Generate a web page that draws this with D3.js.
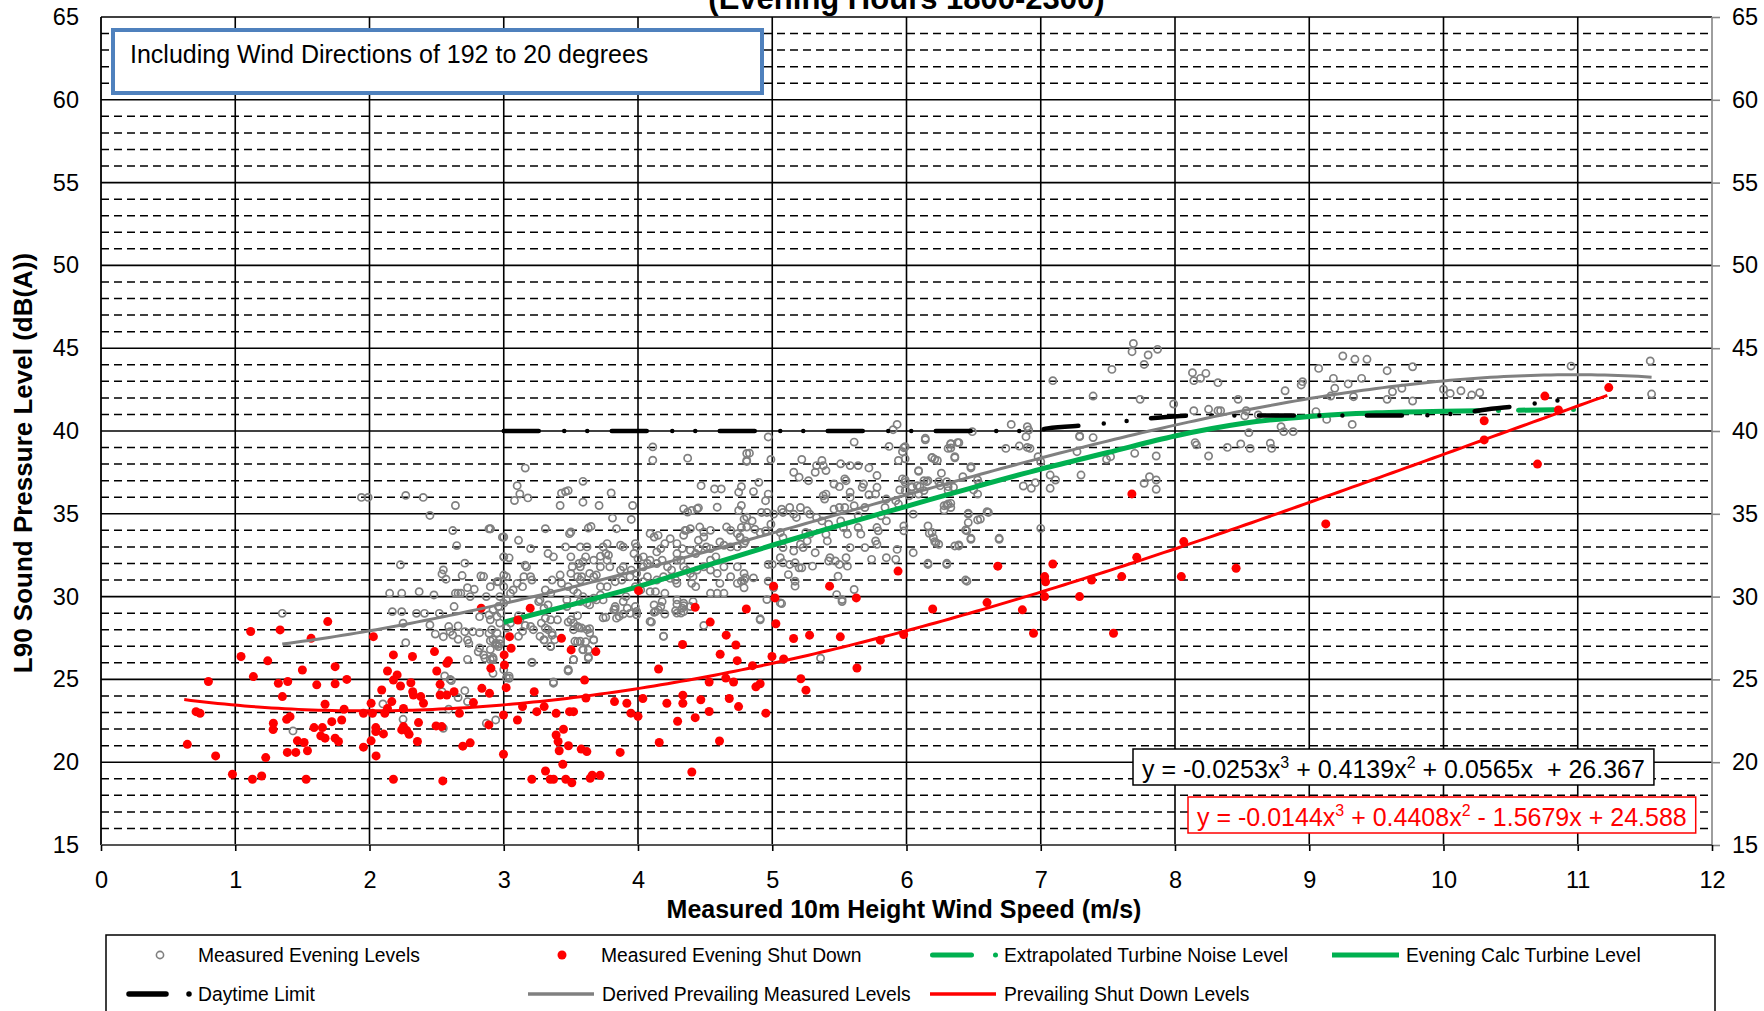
<!DOCTYPE html>
<html>
<head>
<meta charset="utf-8">
<script src="https://cdn.jsdelivr.net/npm/d3@7"></script>
<style>
  html, body { margin: 0; padding: 0; background: #fff; overflow: hidden; }
  svg { display: block; font-family: "Liberation Sans", Arial, sans-serif; }
</style>
</head>
<body>
<svg id="chart" width="1764" height="1011"></svg>
<script>
// ---------- axis ticks ----------
const xTickValues = [0, 1, 2, 3, 4, 5, 6, 7, 8, 9, 10, 11, 12];
const yTickValues = [15, 20, 25, 30, 35, 40, 45, 50, 55, 60, 65];

// ---------- series: measured evening levels (wind speed m/s, dB(A)) ----------
const eveningLevels = [
[1.94,35.99],[1.99,35.99],[2.27,36.11],[2.40,35.99],[2.64,35.5],[2.45,34.9],[2.62,33.99],[2.89,34.09],[2.90,34.09],[2.65,33.08],[2.99,33.59],[2.23,31.92],[2.55,31.61],[2.54,31.37],[2.57,31.05],[2.71,32.02],[2.69,31.27],[2.83,31.25],[2.85,31.21],[3.0,32.4],[2.96,30.9],[2.73,30.54],[2.78,30.44],[2.15,30.2],[2.24,30.2],[2.37,30.3],[2.48,30.1],[2.64,30.2],[2.66,30.2],[2.68,30.2],[2.75,30.0],[2.87,30.0],[1.35,28.99],[2.17,29.09],[2.24,29.09],[2.35,28.99],[2.41,28.99],[2.52,28.99],[2.63,29.4],[2.45,28.29],[2.49,27.74],[2.55,27.58],[2.59,28.19],[2.66,28.23],[2.60,27.88],[2.62,27.68],[2.71,27.88],[2.77,27.88],[2.82,27.82],[2.25,28.39],[2.27,27.22],[2.66,27.42],[2.73,27.38],[2.74,27.18],[2.82,28.79],[2.89,28.89],[2.95,28.79],[2.90,27.34],[2.94,27.18],[2.96,26.98],[2.81,26.67],[2.85,26.47],[2.73,26.21],[2.89,27.78],[2.92,26.21],[2.60,25.0],[2.97,30.0],[3.0,29.6],[2.98,29.0],[3.0,30.6],[3.02,31.2],
[1.43,21.89],[2.10,23.52],[2.25,22.59],[2.56,25.21],[2.61,24.93],[2.54,24.26],[2.71,24.32],[2.66,23.9],[2.59,23.2],[2.55,22.05],[2.87,22.35],[2.94,22.55],[3.37,24.77],[3.21,26.01],[3.48,25.51],[2.92,25.37],[3.04,25.07],[2.73,23.66],[2.86,26.28],[2.92,26.32],[2.82,26.9],[2.97,27.15],
[4.11,39.04],[4.11,38.24],[4.37,38.36],[4.81,38.64],[4.81,38.16],[3.16,37.76],[3.10,36.7],[3.12,36.2],[3.18,35.96],[3.08,35.8],[3.59,36.96],[3.43,36.24],[3.46,36.34],[3.48,36.4],[3.59,35.7],[3.42,35.5],[3.71,35.5],[3.80,36.26],[3.96,35.5],[3.95,34.66],[3.81,34.74],[3.65,34.24],[3.63,34.14],[3.84,34.1],[3.31,34.1],[3.49,33.8],[3.50,33.9],[2.90,34.1],[3.0,33.6],[3.11,33.4],[3.20,32.9],[3.0,32.4],[3.04,32.34],[3.46,33.0],[3.57,33.0],[3.62,33.0],[3.33,32.6],[3.37,32.4],[3.50,32.4],[3.61,32.4],[3.59,32.1],[3.72,32.44],[3.76,32.6],[3.78,32.5],[3.87,33.1],[3.89,33.0],[3.98,33.2],[3.99,33.0],[4.09,33.8],[4.12,33.6],[4.15,33.7],[4.34,35.3],[4.37,35.1],[4.40,35.2],[4.44,35.3],[4.45,35.36],[4.47,36.7],[4.57,36.5],[4.62,36.5],[4.59,35.4],[4.75,36.3],[4.77,36.64],[4.75,35.2],[4.77,35.5],[4.81,34.8],[4.81,34.2],[4.36,34.0],[4.39,34.1],[4.46,34.2],[4.49,33.9],[4.54,34.0],[4.66,34.2],[4.69,34.0],[4.74,33.8],[4.76,33.6],[4.20,33.2],[4.24,33.5],[4.29,33.2],[4.33,32.9],[4.39,32.8],[4.43,32.6],[4.45,32.9],[4.51,33.0],[4.54,32.9],[4.61,33.3],[4.64,33.1],[4.69,33.0],[4.74,33.0],[4.79,33.2],[3.97,32.6],[4.0,32.3],[4.04,32.4],[4.09,32.2],[4.14,32.0],[4.18,32.2],[4.22,31.8],[4.25,31.6],[4.32,32.2],[4.34,31.8],[4.36,31.6],[4.39,31.4],[4.41,31.2],[4.44,31.6],[4.49,31.8],[4.54,31.6],[4.59,31.4],[4.64,31.8],[4.69,31.2],[4.61,30.8],[4.74,30.8],[4.79,31.0],[4.40,30.8],[4.43,30.6],[4.54,30.2],[4.59,30.2],[4.64,30.2],[4.09,30.3],[4.13,30.3],[4.20,30.2],[4.18,29.7],[4.29,29.8],[4.34,29.6],[4.12,29.5],[4.17,29.4],[3.92,29.3],[3.98,29.4],[3.99,29.1],[3.99,28.9],[4.13,29.1],[4.15,29.2],[4.09,28.5],[4.19,27.6],[4.34,29.1],[4.29,29.0],[3.84,28.7],[3.86,28.8],[3.74,29.8],[3.72,30.1],[3.67,29.9],[3.83,30.9],[3.88,31.0],[3.94,31.2],[3.77,30.6],[3.72,30.6],[3.64,31.4],[3.67,31.2],[3.69,31.3],[3.57,31.0],[3.58,31.2],[3.55,31.2],[3.50,31.4],[3.51,31.8],[3.42,31.3],[3.43,30.8],[3.36,31.0],[3.31,30.4],[3.35,30.2],[3.27,29.8],[3.26,29.7],[3.20,31.2],[3.21,31.0],[3.15,31.2],[3.14,30.6],[3.10,30.8],[3.07,30.4],[3.05,30.2],[3.02,29.8],[2.96,29.4],[2.92,29.2],[2.95,30.9],[2.90,30.6],[3.17,31.8],[3.16,31.9],[3.0,31.3],[3.48,30.6],[3.52,30.4],[3.55,30.2],[3.59,30.0],[3.47,29.8],[3.47,29.4],[3.33,29.5],[3.30,29.3],[3.57,29.7],[3.62,29.6],[3.64,29.5],[3.69,29.8],[3.40,28.6],[3.35,28.6],[3.31,28.7],[3.28,28.4],[3.31,28.1],[3.33,28.0],[3.36,27.8],[3.27,27.6],[3.30,27.4],[3.22,28.0],[3.20,28.2],[3.12,28.6],[3.14,27.9],[3.11,27.6],[3.05,28.4],[3.02,28.1],[2.97,28.4],[2.95,27.8],[2.92,27.4],[2.90,28.6],[2.91,28.0],[3.50,28.6],[3.52,28.4],[3.55,28.2],[3.58,28.1],[3.62,28.0],[3.64,27.8],[3.67,27.4],[3.57,27.3],[3.53,27.3],[3.59,26.8],[3.63,26.36],[3.52,26.2],[3.35,27.0],[3.38,27.4],[3.48,25.6],[3.21,26.04],[2.90,26.8],[2.90,26.2],[2.92,26.2],[3.04,25.2],[2.95,27.1],[2.97,27.4],[3.83,29.4],[3.82,29.2],[3.89,29.7],[3.91,30.0],[3.98,30.6],[4.02,30.4],[4.04,30.9],[4.07,31.2],[4.14,31.0],[4.19,31.2],[4.24,31.1],[4.28,31.0],[4.29,30.8],[3.99,31.4],[3.95,31.6],[4.04,31.8],[4.07,32.0],[3.89,31.8],[3.87,31.6],[3.79,31.8],[3.77,32.2],[3.72,31.8],[3.67,32.2],[3.56,32.0],[3.57,31.8],[3.74,33.0],[3.77,33.2],[4.29,32.2],[4.29,32.6],[4.35,34.0],[4.34,33.7],[4.74,31.8],[4.79,31.4],[4.54,32.2],[4.58,32.4],[4.45,33.4],[4.49,33.6],[4.14,32.7],[4.17,32.9],[4.41,29.7],[4.39,29.4],[4.33,29.3],[4.32,29.0],
[3.37,24.84],[3.48,25.53],[3.52,26.19],[3.63,26.28],[3.59,26.78],[3.63,26.78],[3.67,27.37],[3.61,27.27],[3.55,27.27],[3.52,28.0],[3.56,28.12],[3.64,28.06],[3.48,28.46],[3.55,28.85],[3.35,26.98],[3.30,27.37],[3.36,27.67],[3.11,28.85],[3.16,28.26],[3.0,25.59],[3.02,25.1],[3.74,28.72],[3.76,28.75],[3.83,29.25],[3.89,28.95],[3.94,28.99],[4.10,28.46],[4.12,29.05],[4.19,27.61],[4.20,28.95],[4.28,29.15],[4.29,29.54],[4.34,29.45],[4.49,28.26],[4.91,28.66],[5.07,29.58],[5.36,26.28],[5.52,29.7],
[4.97,39.64],[4.83,38.66],[4.81,38.22],[4.99,38.28],[5.22,38.28],[5.16,37.51],[5.20,37.21],[5.27,37.0],[5.32,37.51],[5.37,38.22],[5.38,37.91],[5.40,37.61],[5.33,37.91],[5.51,38.02],[5.58,37.91],[5.64,37.91],[5.72,37.77],[5.61,39.33],[5.87,39.07],[5.98,38.99],[5.93,40.4],[5.90,40.08],[5.94,38.22],[5.99,38.32],[6.14,39.47],[6.33,39.23],[6.39,39.29],[6.33,38.97],[6.36,38.38],[6.19,38.38],[6.23,38.22],[6.48,37.77],[6.09,37.57],[6.26,37.45],[5.78,37.31],[5.97,37.11],[5.99,36.9],[6.13,37.0],[6.16,37.0],[6.30,36.94],[4.90,36.9],[4.86,36.34],[4.97,36.19],[4.95,35.79],[5.46,36.8],[5.50,36.64],[5.54,37.11],[5.55,37.0],[5.68,36.8],[5.67,36.6],[5.58,36.3],[5.58,35.99],[5.38,36.09],[5.40,36.19],[5.39,35.89],[5.78,36.6],[5.77,36.19],[5.72,36.15],[5.85,35.89],[5.84,35.38],[5.92,35.79],[5.94,35.59],[5.99,36.4],[6.04,36.6],[6.02,36.09],[6.08,36.7],[6.09,36.19],[6.13,36.4],[6.25,36.7],[6.31,36.4],[6.35,36.6],[6.50,36.44],[6.53,36.19],[6.28,35.49],[6.31,35.59],[6.33,35.38],[6.46,34.98],[6.46,34.47],[6.45,33.97],[6.61,35.08],[6.55,34.68],[6.48,33.46],[6.69,33.46],[6.39,33.06],[6.16,34.27],[6.19,33.87],[6.20,33.56],[6.22,33.26],[6.24,33.16],[6.05,34.98],[5.98,34.27],[5.98,33.97],[6.05,32.65],[6.16,31.94],[6.30,31.94],[6.45,30.93],[5.85,34.57],[5.79,33.97],[5.69,32.96],[5.74,32.25],[5.77,33.36],[5.78,33.16],[5.85,32.35],[5.92,32.25],[5.58,32.96],[5.55,32.35],[5.43,32.35],[5.47,32.15],[5.50,31.94],[5.56,31.84],[5.49,31.23],[5.61,30.43],[5.48,30.12],[5.52,29.82],[5.46,35.28],[5.50,35.38],[5.54,35.38],[5.61,35.49],[5.64,34.88],[5.69,35.38],[5.78,34.17],[5.33,34.78],[5.37,34.57],[5.42,34.37],[5.51,34.57],[5.53,34.17],[5.56,33.77],[5.26,35.18],[5.28,34.98],[5.21,35.38],[5.13,35.38],[5.16,34.98],[5.18,34.78],[5.07,35.28],[5.08,35.08],[4.92,35.08],[4.96,35.08],[5.01,34.98],[5.25,33.87],[5.28,33.77],[5.26,33.36],[5.21,33.16],[5.23,32.96],[5.16,32.75],[5.32,32.65],[5.08,32.96],[5.06,32.35],[5.08,32.04],[5.13,31.94],[5.17,32.04],[5.20,31.74],[5.22,31.74],[5.17,30.93],[5.17,30.63],[5.12,31.33],[5.42,32.15],[5.30,31.84],[5.0,31.94],[4.97,31.94],[4.80,33.36],[4.76,33.56],[4.77,34.17],[4.79,34.68],[4.91,33.87],[4.95,33.97],[4.99,34.37],[4.86,31.13],[4.80,31.13],[4.77,30.93],[4.79,30.53],[5.06,29.62],[4.96,29.82],[4.91,28.6],[4.97,30.93],[5.01,30.53],[6.36,33.06],[5.64,34.17],[5.66,33.77],[5.40,33.77],[5.41,33.36],[5.06,33.87],[5.08,33.56],[4.85,34.57],[4.87,34.07],[5.81,34.88],[5.93,32.85],
[7.69,45.29],[7.68,44.79],[7.80,44.59],[7.87,44.93],[7.77,44.02],[7.53,43.72],[7.09,43.04],[7.39,42.11],[7.74,41.91],[7.99,41.63],[8.13,43.52],[8.23,43.48],[8.19,43.18],[8.14,43.04],[8.32,42.92],[8.14,41.23],[8.25,41.31],[8.32,41.23],[8.34,41.23],[8.47,41.91],[8.53,41.23],[8.52,40.91],[8.62,40.97],[6.78,40.4],[6.90,40.26],[6.91,40.06],[6.89,39.66],[6.49,39.96],[6.14,39.56],[5.99,39.05],[5.97,38.75],[6.33,39.22],[6.38,39.3],[6.31,38.95],[6.74,38.95],[6.84,39.09],[6.90,39.01],[6.92,38.95],[7.29,39.7],[7.39,39.6],[6.98,38.45],[7.0,38.15],[6.19,38.41],[6.21,38.29],[6.36,38.45],[6.48,37.85],[6.09,37.61],[6.15,36.94],[6.24,36.94],[5.99,37.04],[6.04,36.64],[6.10,36.64],[5.95,36.44],[6.31,36.64],[6.42,37.24],[6.53,37.04],[6.54,36.84],[6.30,35.53],[6.33,35.63],[6.28,35.23],[6.46,35.03],[6.53,34.63],[6.60,35.13],[6.44,34.02],[6.48,33.52],[6.39,33.12],[6.21,33.32],[6.17,33.82],[6.69,33.52],[6.16,32.01],[6.30,32.01],[6.44,31.0],[6.87,36.68],[6.93,36.54],[6.96,36.88],[7.07,37.34],[7.11,37.04],[7.07,36.54],[7.0,34.12],[7.27,38.75],[7.30,37.34],[7.29,39.66],[7.49,38.29],[7.52,38.45],[7.70,38.65],[7.86,38.49],[7.77,36.84],[7.81,37.24],[7.86,37.04],[7.86,36.48],[8.25,38.49],[8.15,39.3],[8.16,39.16],[8.39,39.01],[8.49,39.22],[8.56,38.95],[8.55,39.9],[8.79,40.26],[8.81,39.96],[8.88,39.96],[8.72,38.95],[8.71,39.26],[8.82,42.43],[8.94,42.78],[8.95,42.98],[9.07,43.78],[9.25,44.53],[9.34,44.33],[9.43,44.33],[9.18,43.18],[9.19,42.58],[9.29,42.84],[9.39,43.18],[9.16,42.11],[9.33,42.07],[9.58,41.91],[9.62,42.37],[9.69,42.58],[9.13,40.7],[9.32,40.4],[9.05,41.17],[9.58,43.64],[9.77,43.88],[9.77,41.81],[10.0,42.52],[10.05,42.27],[10.13,42.43],[10.21,42.17],[10.27,42.31],[10.95,43.92],[11.54,44.23],[11.55,42.23]
];

// ---------- series: measured evening levels with turbines shut down ----------
const eveningShutDown = [
[0.80,24.87],[1.115,27.89],[1.334,27.99],[1.689,28.49],[1.565,27.48],[1.043,26.38],[1.242,26.12],[1.135,25.17],[1.50,25.57],[1.744,25.77],[1.321,24.77],[1.391,24.87],[1.607,24.67],[1.744,24.73],[1.831,25.0],[1.351,23.96],[0.708,23.05],[0.738,22.95],[0.643,21.08],[0.854,20.38],[0.979,19.27],[1.128,18.97],[1.197,19.17],[1.227,20.28],[1.284,22.35],[1.282,21.97],[1.383,22.59],[1.408,22.75],[1.587,22.09],[1.649,22.09],[1.669,23.5],[1.719,22.45],[1.793,22.55],[1.811,23.2],[1.637,21.59],[1.669,21.45],[1.744,21.45],[1.769,21.25],[1.463,21.29],[1.513,21.19],[1.538,20.69],[1.388,20.59],[1.451,20.59],[1.528,18.97],
[2.029,27.58],[2.178,26.48],[2.32,26.38],[2.134,25.51],[2.206,25.27],[2.178,24.96],[2.231,24.6],[2.308,24.8],[2.322,24.26],[2.327,24.06],[2.382,23.96],[2.402,23.56],[2.091,24.36],[2.166,23.66],[2.012,23.56],[1.955,22.95],[2.022,22.95],[2.114,22.95],[2.134,23.25],[2.253,23.25],[2.365,22.39],[2.253,22.15],[2.278,21.91],[2.295,21.69],[2.24,21.95],[2.104,21.71],[2.047,22.09],[2.047,21.85],[2.012,21.29],[1.955,20.91],[2.049,20.38],[2.357,21.25],[2.178,18.97],[2.546,18.87],
[2.484,26.68],[2.576,25.97],[2.588,26.12],[2.501,25.51],[2.526,24.7],[2.526,24.06],[2.576,24.06],[2.63,24.26],[2.496,22.19],[2.538,22.15],[2.695,20.97],[2.75,21.17],[2.67,22.95],[2.774,23.6],[2.837,24.46],[2.894,24.16],[2.889,22.25],[2.998,22.85],[2.998,20.48],[3.018,24.5],[3.005,25.87],[3.003,26.48],[3.055,26.88],[3.043,27.58],[2.904,25.67],[2.832,29.3],[3.197,29.3],[3.105,28.59],
[3.43,27.48],[3.502,26.78],[3.602,24.96],[3.612,23.88],[3.227,24.26],[3.14,23.36],[3.102,22.55],[3.246,23.05],[3.301,23.36],[3.39,22.95],[3.49,23.05],[3.52,23.05],[3.39,21.64],[3.445,21.99],[3.405,21.25],[3.482,20.99],[3.413,20.69],[3.577,20.79],[3.619,20.64],[3.44,19.87],[3.311,19.47],[3.346,18.97],[3.371,18.97],[3.462,18.97],[3.507,18.76],[3.209,18.97],[3.644,19.03],
[3.686,26.68],[3.659,19.21],[3.718,19.21],[3.867,20.59],[3.825,23.66],[3.917,23.56],[3.947,22.96],[4.0,22.77],[4.036,23.85],[4.153,25.63],[4.158,21.19],[4.215,23.56],[4.295,22.47],[4.334,24.05],[4.334,23.56],[4.332,27.11],[4.426,29.35],[4.401,19.41],[4.426,22.69],[4.468,23.77],[4.53,24.84],[4.53,23.06],[4.538,28.46],[4.612,26.52],[4.607,21.28],[4.654,25.08],[4.657,27.67],[4.68,23.85],[4.712,24.84],[4.729,27.08],[4.739,26.13],[4.749,23.36],[4.807,29.25],[4.853,25.83],[4.878,24.55],[4.91,24.74],[4.952,22.96],[4.998,26.38],[5.027,28.36],[5.085,26.23],[5.159,27.47],[5.213,25.04],[5.251,24.35],[5.278,27.67],[5.507,27.57],[5.631,25.69],[5.805,27.37],[5.979,27.71],[6.195,29.25],[6.6,29.64],
[4.004,30.36],[5.01,30.63],[5.02,29.92],[5.427,30.63],[5.626,29.92],[5.937,31.54],[6.68,31.84],[6.863,29.2],[6.946,27.79],[7.029,31.21],[7.036,30.9],[7.029,30.0],[7.09,31.97],[7.289,30.0],[7.379,31.0],[7.542,27.79],[7.603,31.21],[7.715,32.37],[7.679,36.2],[8.047,31.21],[8.065,33.32],[8.455,31.71],[9.123,34.39],[10.303,40.62],[10.303,39.46],[10.7,38.0],[10.755,42.11],[10.856,41.27],[11.231,42.62]
];

// ---------- calculated turbine contribution ----------
const calcTurbine = [[3,28.45],[3.5,29.5],[4,30.6],[4.5,31.85],[5,33.1],[5.5,34.3],[6,35.45],[6.5,36.6],[7,37.7],[7.5,38.7],[8,39.7],[8.5,40.45],[9,40.88],[9.5,41.1],[10,41.2]];
const extrapTurbine = [[10,41.2],[10.5,41.25],[11,41.3]];

// ---------- daytime limit ----------
const daytimeLimit = [[3,40],[6.95,40],[7.05,40.16],[7.36,40.36],[7.52,40.5],[7.7,40.66],[7.87,40.8],[8.16,40.93],[9.8,40.93],[9.96,41.0],[10.13,41.07],[10.29,41.27],[10.61,41.57],[10.77,41.77],[10.94,41.93],[11,42.0]];

// ---------- cubic trendlines (coefficients of x^3, x^2, x, 1) ----------
const derivedCoef = [-0.0253, 0.4139, 0.0565, 26.367];
const derivedRange = [1.35, 11.55];
const shutCoef = [-0.0144, 0.4408, -1.5679, 24.588];
const shutRange = [0.62, 11.25];

const seriesNames = [
  "Measured Evening Levels", "Measured Evening Shut Down",
  "Extrapolated Turbine Noise Level", "Evening Calc Turbine Level",
  "Daytime Limit", "Derived Prevailing Measured Levels", "Prevailing Shut Down Levels"
];

// ---------- colours ----------
const C = { gray: "#808080", red: "#FF0000", green: "#00B050", black: "#000000", blue: "#4F81BD", axisGray: "#868686" };

// ---------- layout ----------
const plot = { left: 101, right: 1712, top: 17, bottom: 845 };
const svg = d3.select("#chart");
const x = d3.scaleLinear().domain([0, 12]).range([plot.left, plot.right]);
const y = d3.scaleLinear().domain([15, 65]).range([plot.bottom, plot.top]);

const cubic = (c, v) => ((c[0] * v + c[1]) * v + c[2]) * v + c[3];
const trend = (c, r) => d3.range(r[0], r[1] + 1e-9, 0.05).map(v => [v, cubic(c, v)]);

// ---------- gridlines ----------
const grid = svg.append("g");
const minorY = d3.range(yTickValues[0], yTickValues[yTickValues.length - 1]).filter(v => v % 5 !== 0);
grid.selectAll(".minor").data(minorY).join("line")
  .attr("x1", plot.left).attr("x2", plot.right)
  .attr("y1", d => y(d)).attr("y2", d => y(d))
  .attr("stroke", "#000").attr("stroke-width", 1.5).attr("stroke-dasharray", "8,5");
grid.selectAll(".vmaj").data(xTickValues.slice(1, -1)).join("line")
  .attr("x1", d => x(d)).attr("x2", d => x(d))
  .attr("y1", plot.top).attr("y2", plot.bottom)
  .attr("stroke", "#000").attr("stroke-width", 1.6);
grid.selectAll(".hmaj").data(yTickValues).join("line")
  .attr("x1", plot.left).attr("x2", plot.right)
  .attr("y1", d => y(d)).attr("y2", d => y(d))
  .attr("stroke", "#000").attr("stroke-width", 1.6);
// left axis (black), right axis (gray), bottom axis
grid.append("line").attr("x1", plot.left).attr("x2", plot.left).attr("y1", plot.top).attr("y2", plot.bottom)
  .attr("stroke", "#000").attr("stroke-width", 1.8);
grid.append("line").attr("x1", plot.right).attr("x2", plot.right).attr("y1", plot.top).attr("y2", plot.bottom)
  .attr("stroke", C.axisGray).attr("stroke-width", 1.6);
grid.append("line").attr("x1", plot.left).attr("x2", plot.right).attr("y1", plot.bottom).attr("y2", plot.bottom)
  .attr("stroke", "#555").attr("stroke-width", 2.2);

// ---------- axes ----------
function styleAxis(g, size) {
  g.select(".domain").remove();
  g.selectAll("text").attr("font-size", size).attr("fill", "#000")
    .attr("font-family", "'Liberation Sans', Arial, sans-serif");
}
svg.append("g").attr("transform", `translate(${plot.left},0)`)
  .call(d3.axisLeft(y).tickValues(yTickValues).tickSize(0).tickPadding(22))
  .call(g => styleAxis(g, 23.5));
svg.append("g").attr("transform", `translate(${plot.right},0)`)
  .call(d3.axisRight(y).tickValues(yTickValues).tickSize(8).tickPadding(12))
  .call(g => { styleAxis(g, 23.5); g.selectAll("line").attr("stroke", C.axisGray).attr("stroke-width", 1.6); });
svg.append("g").attr("transform", `translate(0,${plot.bottom})`)
  .call(d3.axisBottom(x).tickValues(xTickValues).tickSize(6).tickPadding(20))
  .call(g => { styleAxis(g, 23.5); g.selectAll("line").attr("stroke", "#000").attr("stroke-width", 1.6); });

// ---------- titles ----------
svg.append("text").attr("x", (plot.left + plot.right) / 2).attr("y", 9)
  .attr("text-anchor", "middle").attr("font-weight", "bold").attr("font-size", 31)
  .text("(Evening Hours 1800-2300)");
svg.append("text").attr("x", 904).attr("y", 918)
  .attr("text-anchor", "middle").attr("font-weight", "bold").attr("font-size", 25)
  .text("Measured 10m Height Wind Speed (m/s)");
svg.append("text").attr("transform", "translate(32,463) rotate(-90)")
  .attr("text-anchor", "middle").attr("font-weight", "bold").attr("font-size", 26)
  .text("L90 Sound Pressure Level (dB(A))");

// ---------- marks ----------
const marks = svg.append("g");
const line = d3.line().x(d => x(d[0])).y(d => y(d[1]));
const smooth = d3.line().x(d => x(d[0])).y(d => y(d[1])).curve(d3.curveMonotoneX);

marks.append("g").selectAll("circle").data(eveningLevels).join("circle")
  .attr("cx", d => x(d[0])).attr("cy", d => y(d[1])).attr("r", 3.6)
  .attr("fill", "none").attr("stroke", C.gray).attr("stroke-width", 1.7);

marks.append("path").datum(extrapTurbine).attr("d", line)
  .attr("fill", "none").attr("stroke", C.green).attr("stroke-width", 5)
  .attr("stroke-linecap", "round").attr("stroke-dasharray", "35,20,0,20");
marks.append("path").datum(calcTurbine).attr("d", smooth)
  .attr("fill", "none").attr("stroke", C.green).attr("stroke-width", 5);

marks.append("g").selectAll("circle").data(eveningShutDown).join("circle")
  .attr("cx", d => x(d[0])).attr("cy", d => y(d[1])).attr("r", 4.5)
  .attr("fill", C.red);

marks.append("path").datum(daytimeLimit).attr("d", smooth)
  .attr("fill", "none").attr("stroke", C.black).attr("stroke-width", 4.5)
  .attr("stroke-linecap", "round").attr("stroke-dasharray", "35,25.5,0,23,0,24.5");

marks.append("path").datum(trend(derivedCoef, derivedRange)).attr("d", line)
  .attr("fill", "none").attr("stroke", C.gray).attr("stroke-width", 3);
marks.append("path").datum(trend(shutCoef, shutRange)).attr("d", line)
  .attr("fill", "none").attr("stroke", C.red).attr("stroke-width", 3);

// ---------- annotation box ----------
svg.append("rect").attr("x", 113).attr("y", 30).attr("width", 649).attr("height", 63)
  .attr("fill", "#fff").attr("stroke", C.blue).attr("stroke-width", 4);
svg.append("text").attr("x", 130).attr("y", 63).attr("font-size", 25)
  .text("Including Wind Directions of 192 to 20 degrees");

// ---------- trendline equations ----------
function fmt(v) { return String(Math.abs(v)); }
function sign(v) { return v < 0 ? "-" : "+"; }
function equation(coef, x0, base, color, gapBeforeConst) {
  const g = svg.append("g");
  const t = g.append("text").attr("x", x0).attr("y", base).attr("font-size", 25)
    .attr("fill", color).style("white-space", "pre");
  t.append("tspan").text(`y = ${coef[0] < 0 ? "-" : ""}${fmt(coef[0])}x`);
  t.append("tspan").attr("font-size", 16).attr("dy", -10).text("3");
  t.append("tspan").attr("dy", 10).text(` ${sign(coef[1])} ${fmt(coef[1])}x`);
  t.append("tspan").attr("font-size", 16).attr("dy", -10).text("2");
  t.append("tspan").attr("dy", 10).text(` ${sign(coef[2])} ${fmt(coef[2])}x${gapBeforeConst ? "  " : " "}${sign(coef[3])} ${fmt(coef[3])}`);
  const b = t.node().getBBox();
  g.insert("rect", "text").attr("x", x0 - 9).attr("y", base - 29)
    .attr("width", b.width + 18).attr("height", 36)
    .attr("fill", "#fff").attr("stroke", color).attr("stroke-width", 1.5);
}
equation(derivedCoef, 1142, 778, "#000", true);
equation(shutCoef, 1197, 826, C.red, false);

// ---------- legend ----------
const lg = svg.append("g");
lg.append("rect").attr("x", 106).attr("y", 935).attr("width", 1609).attr("height", 120)
  .attr("fill", "#fff").attr("stroke", "#000").attr("stroke-width", 1.5);
const row1 = 955, row2 = 994;
const legendItems = [
  { name: seriesNames[0], kind: "ring", x0: 160, tx: 198, yy: row1 },
  { name: seriesNames[1], kind: "dot", x0: 562, tx: 601, yy: row1 },
  { name: seriesNames[2], kind: "line", x0: 932.5, x1: 997, tx: 1004, yy: row1, color: C.green, w: 5, dash: "39,24,0,200" },
  { name: seriesNames[3], kind: "line", x0: 1332, x1: 1399, tx: 1406, yy: row1, color: C.green, w: 5 },
  { name: seriesNames[4], kind: "line", x0: 129, x1: 190, tx: 198, yy: row2, color: C.black, w: 5.5, dash: "37,23,0,200" },
  { name: seriesNames[5], kind: "line", x0: 528, x1: 594, tx: 602, yy: row2, color: C.gray, w: 3.5 },
  { name: seriesNames[6], kind: "line", x0: 930, x1: 996, tx: 1004, yy: row2, color: C.red, w: 3.5 }
];
legendItems.forEach(it => {
  if (it.kind === "ring") {
    lg.append("circle").attr("cx", it.x0).attr("cy", it.yy).attr("r", 3.6)
      .attr("fill", "none").attr("stroke", C.gray).attr("stroke-width", 1.6);
  } else if (it.kind === "dot") {
    lg.append("circle").attr("cx", it.x0).attr("cy", it.yy).attr("r", 4.5).attr("fill", C.red);
  } else {
    const p = lg.append("line").attr("x1", it.x0).attr("x2", it.x1).attr("y1", it.yy).attr("y2", it.yy)
      .attr("stroke", it.color).attr("stroke-width", it.w);
    if (it.dash) p.attr("stroke-dasharray", it.dash).attr("stroke-linecap", "round");
  }
  lg.append("text").attr("x", it.tx).attr("y", it.yy + 7).attr("font-size", 19.3).text(it.name);
});
</script>
</body>
</html>
